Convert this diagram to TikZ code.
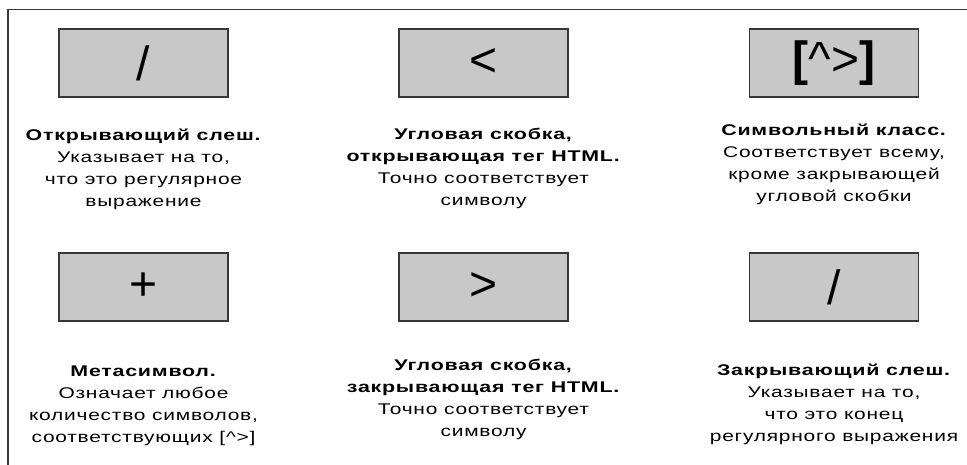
\documentclass[tikz,border=0pt]{standalone}
\usepackage{fontspec}
\setmainfont[FakeStretch=1.35,LetterSpace=5,
    BoldFeatures={FakeStretch=1.38}]{Liberation Sans}
\newfontfamily\symfont{Liberation Sans}
\definecolor{boxgray}{RGB}{200,200,200}
\definecolor{linegray}{RGB}{55,55,55}

\begin{document}
\begin{tikzpicture}[x=1pt,y=-1pt,
    symbox/.style={draw=linegray, fill=boxgray, line width=1.2pt,
        minimum width=169pt, minimum height=68pt, inner sep=0pt,
        font=\symfont\fontsize{48}{48}\selectfont},
    note/.style={align=center, anchor=base, inner sep=0pt,
        font=\fontsize{15.5}{22}\selectfont}]
    \useasboundingbox (0,0) rectangle (967,465);
    % frame
    \draw[linegray, line width=1.5pt] (8,465) -- (8,9.5) -- (967,9.5);
    % upper row
    \node[symbox] (openslash) at (143.5,63) {/};
    \node[symbox] (lbracket) at (483.5,63) {<};
    \node[symbox] (charclass) at (834,63) {\textbf{[}\textasciicircum>\textbf{]}};
    \node[note] (openslashtxt) at (143.5,207)
        {\textbf{Открывающий слеш.}\\Указывает на то,\\что это регулярное\\выражение};
    \node[note] (lbrackettxt) at (483.5,206)
        {\textbf{Угловая скобка,}\\\textbf{открывающая тег HTML.}\\Точно соответствует\\символу};
    \node[note] (charclasstxt) at (834,201.5)
        {\textbf{Символьный класс.}\\Соответствует всему,\\кроме закрывающей\\угловой скобки};
    % lower row
    \node[symbox] (plus) at (143.5,287) {+};
    \node[symbox] (rbracket) at (483.5,287) {>};
    \node[symbox] (closeslash) at (834,287) {/};
    \node[note] (plustxt) at (143.5,442.5)
        {\textbf{Метасимвол.}\\Означает любое\\количество символов,\\соответствующих [\textasciicircum>]};
    \node[note] (rbrackettxt) at (483.5,436)
        {\textbf{Угловая скобка,}\\\textbf{закрывающая тег HTML.}\\Точно соответствует\\символу};
    \node[note] (closeslashtxt) at (834,441.5)
        {\textbf{Закрывающий слеш.}\\Указывает на то,\\что это конец\\регулярного выражения};
\end{tikzpicture}
\end{document}
